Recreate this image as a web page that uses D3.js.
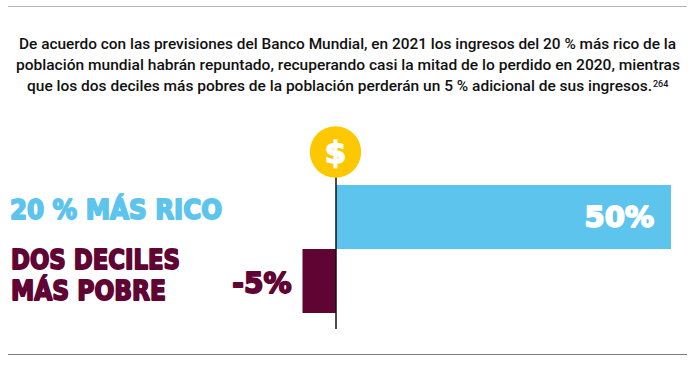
<!DOCTYPE html>
<html><head><meta charset="utf-8">
<script src="https://cdn.jsdelivr.net/npm/d3@7/dist/d3.min.js"></script>
<style>html,body{margin:0;padding:0;background:#fff}svg{display:block}</style>
</head><body><svg id="c" width="700" height="366"></svg>
<script>
const categories = ["20 % MÁS RICO", "DOS DECILES MÁS POBRE"];
const values = [50, -5];
const valueLabels = ["50%", "-5%"];
const categoryLines = [["20 % MÁS RICO"], ["DOS DECILES", "MÁS POBRE"]];
const colors = ["#5DC4EE", "#5F0433"];
const introLines = [
  "De acuerdo con las previsiones del Banco Mundial, en 2021 los ingresos del 20 % más rico de la",
  "población mundial habrán repuntado, recuperando casi la mitad de lo perdido en 2020, mientras",
  "que los dos deciles más pobres de la población perderán un 5 % adicional de sus ingresos."
];
const note = "264";

const svg = d3.select("#c");
const x = d3.scaleLinear().domain([-5, 50]).range([302.5, 671]);
const y = d3.scaleBand().domain(categories).range([185, 313]).padding(0);

[[6.5, "#b5b5b5"], [354.5, "#7d7d7d"]].forEach(([py, col]) =>
  svg.append("line").attr("x1", 8).attr("x2", 687).attr("y1", py).attr("y2", py)
     .attr("stroke", col).attr("stroke-width", 1));

const bodyFont = "Roboto, sans-serif";
const starts = [19, 16, 27], lens = [657, 664, 625];
introLines.forEach((t, i) => {
  svg.append("text").attr("x", starts[i]).attr("y", 49 + i * 21)
    .attr("font-family", bodyFont).attr("font-size", 15).attr("font-weight", 500)
    .attr("fill", "#111").attr("textLength", lens[i]).attr("lengthAdjust", "spacingAndGlyphs").text(t);
});
svg.append("text").attr("x", 653).attr("y", 87).attr("font-family", bodyFont)
  .attr("font-size", 9).attr("font-weight", 500).attr("fill", "#111").text(note);

svg.selectAll("rect.bar").data(values).join("rect").attr("class", "bar")
  .attr("x", d => Math.min(x(0), x(d)))
  .attr("width", d => Math.abs(x(d) - x(0)))
  .attr("y", (d, i) => y(categories[i]))
  .attr("height", y.bandwidth())
  .attr("fill", (d, i) => colors[i]);

const x0 = x(0);
svg.append("line").attr("x1", x0).attr("x2", x0).attr("y1", 176).attr("y2", 329)
  .attr("stroke", "#111").attr("stroke-width", 1.5);

svg.append("circle").attr("cx", x0 - 0.5).attr("cy", 152).attr("r", 25.7).attr("fill", "#FDC800");
svg.append("text").attr("x", x0 - 0.5).attr("y", 163).attr("text-anchor", "middle")
  .attr("font-family", "'DejaVu Sans', sans-serif").attr("font-weight", 700).attr("font-size", 31)
  .attr("fill", "#fff").attr("stroke", "#fff").attr("stroke-width", 1.4).text("$");

const heavy = s => s.attr("font-family", "'DejaVu Sans', sans-serif").attr("font-weight", 700)
  .attr("stroke-linejoin", "round").attr("stroke-width", 1.8);
heavy(svg.append("text")).attr("x", 10).attr("y", 219).attr("font-size", 26)
  .attr("fill", colors[0]).attr("stroke", colors[0])
  .attr("textLength", 212).attr("lengthAdjust", "spacingAndGlyphs").text(categoryLines[0][0]);
categoryLines[1].forEach((t, i) => {
  heavy(svg.append("text")).attr("x", 11).attr("y", 268.5 + i * 31).attr("font-size", 26)
    .attr("fill", colors[1]).attr("stroke", colors[1])
    .attr("textLength", [169, 155][i]).attr("lengthAdjust", "spacingAndGlyphs").text(t);
});

heavy(svg.append("text")).attr("x", x(50) - 17).attr("y", 227).attr("text-anchor", "end")
  .attr("font-size", 29).attr("fill", "#fff").attr("stroke", "#fff").text(valueLabels[0]);
heavy(svg.append("text")).attr("x", x(-5) - 11).attr("y", 292.5).attr("text-anchor", "end")
  .attr("font-size", 28).attr("fill", colors[1]).attr("stroke", colors[1]).text(valueLabels[1]);
</script></body></html>
